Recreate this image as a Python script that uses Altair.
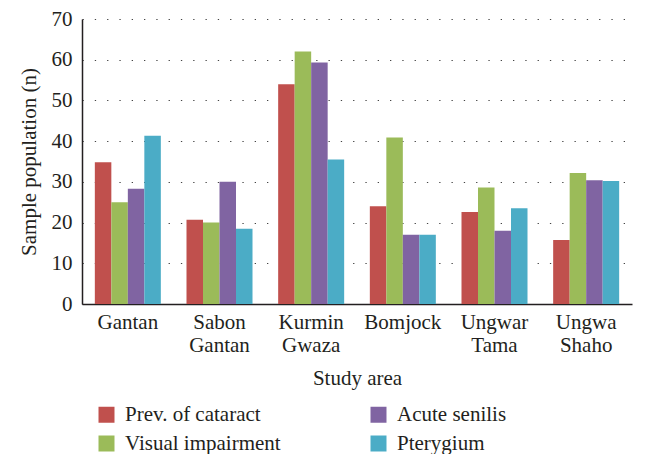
import altair as alt
import pandas as pd

areas = ["Gantan", "Sabon Gantan", "Kurmin Gwaza", "Bomjock", "Ungwar Tama", "Ungwa Shaho"]
series = ["Prev. of cataract", "Visual impairment", "Acute senilis", "Pterygium"]
cataract = [34.8, 20.7, 54.0, 24.0, 22.6, 15.7]
visual = [25.0, 20.0, 62.0, 40.9, 28.6, 32.2]
acute = [28.3, 30.0, 59.3, 17.0, 18.0, 30.4]
ptery = [41.3, 18.5, 35.5, 17.0, 23.5, 30.2]
colors = {"Prev. of cataract": "#C0504D", "Visual impairment": "#9BBB59",
          "Acute senilis": "#8064A2", "Pterygium": "#4BACC6"}
y_ticks = [0, 10, 20, 30, 40, 50, 60, 70]

rows = []
for name, vals in zip(series, [cataract, visual, acute, ptery]):
    for a, v in zip(areas, vals):
        rows.append({"area": a, "series": name, "value": v})
df = pd.DataFrame(rows)

FONT = "Liberation Serif"
TXT = "#231f20"

chart = alt.Chart(df).mark_bar().encode(
    x=alt.X("area:N", sort=areas,
            scale=alt.Scale(paddingInner=0.28, paddingOuter=0.14),
            axis=alt.Axis(title="Study area", labelAngle=0, ticks=False, tickSize=0,
                          labelExpr="split(datum.label, ' ')", labelLineHeight=23,
                          labelPadding=7, titlePadding=12, domainColor="#231f20",
                          domainWidth=1.5, labelFontSize=21, titleFontSize=21,
                          titleFontWeight="normal")),
    xOffset=alt.XOffset("series:N", sort=series, scale=alt.Scale(paddingInner=0)),
    y=alt.Y("value:Q", scale=alt.Scale(domain=[0, 70]),
            axis=alt.Axis(title="Sample population (n)", values=y_ticks, ticks=False, tickSize=0,
                          labelPadding=10, titlePadding=12, domainColor="#231f20",
                          domainWidth=1.5, grid=True, gridDash=[1.3, 11],
                          gridColor="#444444", gridWidth=1.2, labelFontSize=21,
                          titleFontSize=21, titleFontWeight="normal")),
    color=alt.Color("series:N",
                    scale=alt.Scale(domain=series, range=[colors[s] for s in series]),
                    legend=alt.Legend(title=None, orient="none", legendX=14, legendY=385,
                                      columns=2, columnPadding=87, rowPadding=7,
                                      symbolType="square", symbolSize=256,
                                      symbolStrokeWidth=0, labelFontSize=21,
                                      labelOffset=8, labelFont=FONT, labelColor=TXT)),
).properties(
    width=550, height=285,
    autosize=alt.AutoSizeParams(type="none"),
    padding={"left": 74, "top": 11, "right": 6, "bottom": 150},
).configure_view(stroke=None).configure_axis(
    labelFont=FONT, titleFont=FONT, labelColor=TXT, titleColor=TXT
).configure_legend(
    labelFont=FONT, labelColor=TXT
).configure_text(font=FONT)

chart.save("out.html", embed_options={"renderer": "svg", "actions": False})
